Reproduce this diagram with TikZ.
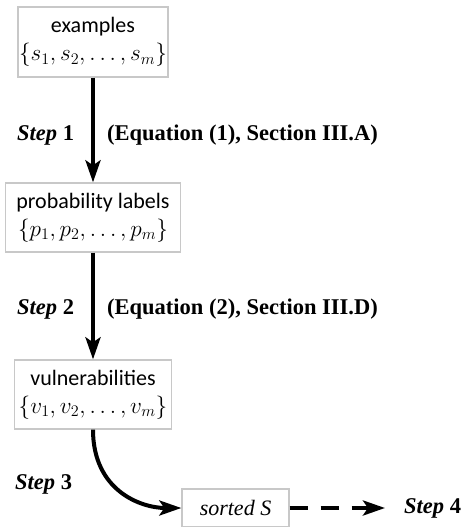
\documentclass[tikz,border=0pt]{standalone}
\usepackage{fontspec}
\usepackage{graphicx}
\setmainfont{Carlito}
\newfontfamily\labfont{Liberation Serif}
\usetikzlibrary{arrows.meta}
\definecolor{boxgray}{RGB}{200,200,200}
\newcommand{\bigset}[1]{\scalebox{1.12}{$#1$}}
\tikzset{
  box/.style={draw=boxgray, line width=1.3pt, align=center, inner sep=0pt,
    font=\fontsize{22}{31}\selectfont},
  flow/.style={line width=4pt, -{Stealth[length=22pt, width=15pt, inset=5pt]}},
  lab/.style={font=\labfont\bfseries\fontsize{22.5}{27}\selectfont, inner sep=0pt}
}
\begin{document}
\begin{tikzpicture}[x=1pt, y=-1pt]
\useasboundingbox (0,0) rectangle (465,527);
\node[box, minimum width=150pt, minimum height=70pt] (ex) at (93,42)
  {examples\\[-3pt]\bigset{\{s_1, s_2, \ldots, s_m\}}};
\node[box, minimum width=175pt, minimum height=69pt] (pl) at (93,217.5)
  {probability labels\\[-3pt]\bigset{\{p_1, p_2, \ldots, p_m\}}};
\node[box, minimum width=157pt, minimum height=69pt] (vu) at (93,394.5)
  {vulnerabilities\\[-3pt]\bigset{\{v_1, v_2, \ldots, v_m\}}};
\node[box, minimum width=107pt, minimum height=38pt] (so) at (235.5,508)
  {\labfont\itshape sorted S};
\draw[flow] (ex.south) -- (pl.north);
\draw[flow] (pl.south) -- (vu.north);
\draw[flow] (vu.south) .. controls (93,490) and (140,508) .. (so.west);
\coordinate (s4) at (385,508);
\draw[flow, dash pattern=on 18pt off 13pt] (so.east) -- (s4);
\node[lab, anchor=west] (l1) at (17,135) {\itshape Step\/ \upshape 1};
\node[lab, anchor=west] (e1) at (107,135) {(Equation (1), Section III.A)};
\node[lab, anchor=west] (l2) at (17,309) {\itshape Step\/ \upshape 2};
\node[lab, anchor=west] (e2) at (107,309) {(Equation (2), Section III.D)};
\node[lab, anchor=west] (l3) at (15,484) {\itshape Step\/ \upshape 3};
\node[lab, anchor=west] (l4) at (404,508) {\itshape Step\/ \upshape 4};
\end{tikzpicture}
\end{document}
